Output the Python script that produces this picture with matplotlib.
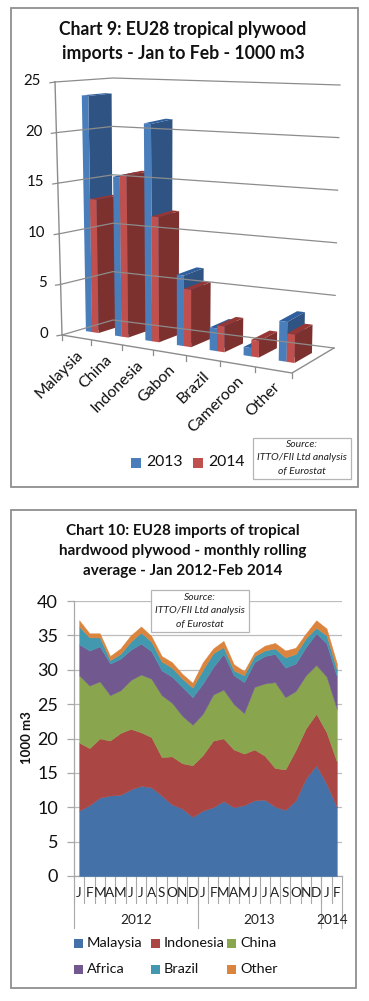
import matplotlib
from matplotlib import pyplot as plt
from matplotlib.patches import Polygon, Rectangle
import numpy as np
plt.switch_backend('agg')
plt.rcParams['font.family'] = ['Lato', 'DejaVu Sans']

W, H = 369, 1001

# Chart 9 data
countries = ['Malaysia', 'China', 'Indonesia', 'Gabon', 'Brazil', 'Cameroon', 'Other']
imports_2013 = [23.6, 15.8, 21.4, 6.9, 2.2, 0.8, 3.8]
imports_2014 = [13.3, 16.0, 12.3, 5.6, 2.5, 1.6, 2.7]
ticks_9 = [0, 5, 10, 15, 20, 25]

# Chart 10 data
months = list('JFMAMJJASOND') * 2 + ['J', 'F']
years = ['2012', '2013', '2014']
year_months = [12, 12, 2]
malaysia = [9.5, 10.3, 11.4, 11.7, 11.8, 12.6, 13.1, 12.9, 11.7, 10.4, 9.8, 8.6, 9.5, 10, 10.9, 10, 10.3, 11, 11.1, 10.1, 9.6, 11, 14.2, 16.1, 13.4, 10]
indonesia = [9.9, 8.3, 8.6, 8, 9, 8.8, 7.8, 7.3, 5.6, 7, 6.6, 7.5, 8.1, 9.7, 9.1, 8.4, 7.5, 7.4, 6.4, 5.6, 5.9, 7.3, 7.3, 7.5, 7.5, 6.6]
china = [9.8, 9.1, 8.3, 6.6, 6.2, 7.1, 8.4, 8.5, 9, 7.8, 6.9, 5.9, 6, 6.7, 7.1, 6.6, 5.9, 9.1, 10.5, 12.5, 10.5, 8.6, 7.7, 7.1, 8.1, 7.7]
africa = [4.5, 5.1, 5.1, 4.6, 4.6, 4.4, 4.5, 4, 3.6, 3.8, 4.2, 4, 4.4, 4, 5.2, 4.2, 4.5, 3.6, 4, 4.1, 4.3, 4, 4.1, 4.6, 4.8, 4.7]
brazil = [2.6, 1.9, 1.3, .5, .7, 1.2, 1.6, 1.4, 1.3, 1.3, 1.2, 1.4, 2, 2, 1, .7, 1, .9, .8, .8, 1.5, 1.4, 1.3, .8, 1.2, 1]
other = [.9, .6, .6, .6, .8, .9, .9, .8, .8, .8, .7, .7, 1.1, .7, .9, .9, .6, .5, .7, .8, 1, .9, .7, 1.1, 1, .9]
series_names = ['Malaysia', 'Indonesia', 'China', 'Africa', 'Brazil', 'Other']
series_cols = ['#4472A8', '#AA4643', '#89A54E', '#71588F', '#4198AF', '#DB843D']
ticks_10 = [0, 5, 10, 15, 20, 25, 30, 35, 40]

GREY = '#8c8c8c'
FRAME = '#8f8f8f'
TXT = '#111111'

fig = plt.figure(figsize=(W/100, H/100), dpi=100)
ax = fig.add_axes([0, 0, 1, 1], zorder=0)
ax.set_xlim(0, W)
ax.set_ylim(H, 0)
ax.axis('off')

# frames
ax.add_patch(Rectangle((10.5, 7.5), 347.5, 479, fc='white', ec=FRAME, lw=1.3))
ax.add_patch(Rectangle((10.5, 510), 345.5, 478, fc='white', ec=FRAME, lw=1.3))

# ---- Chart 9, fake 3D box: floor and top corners in pixels
floor = np.array([[62, 335], [292, 373], [113, 320], [334, 348]], float)
roof = np.array([[55, 82], [297, 110], [113, 78], [340, 85]], float)

def proj(u, d, v):
    t = u / 7.0
    s = t * (0.87 + 0.13 * t)  # perspective on category axis
    low = (1-d)*((1-s)*floor[0] + s*floor[1]) + d*((1-s)*floor[2] + s*floor[3])
    up = (1-d)*((1-s)*roof[0] + s*roof[1]) + d*((1-s)*roof[2] + s*roof[3])
    return low + (up - low) * v / 25.0

for v in ticks_9:
    pts = np.array([proj(0, 0, v), proj(0, 1, v), proj(7, 1, v)])
    ax.plot(pts[:, 0], pts[:, 1], color=GREY, lw=0.9)
    a = proj(0, 0, v)
    ax.plot([a[0]-5, a[0]], [a[1]+0.8, a[1]], color=GREY, lw=0.9)
    ax.text(a[0]-14, a[1]-1, str(v), ha='right', va='center', fontsize=10.8, color=TXT)

pts = np.array([proj(0, 0, 25), proj(0, 0, 0), proj(7, 0, 0), proj(7, 1, 0)])
ax.plot(pts[:, 0], pts[:, 1], color=GREY, lw=1.0)

def bar3(u0, u1, v, front, side, top, d0=0.33, d1=0.74):
    ax.add_patch(Polygon([proj(u1, d0, 0), proj(u1, d1, 0), proj(u1, d1, v), proj(u1, d0, v)], fc=side, ec='none'))
    ax.add_patch(Polygon([proj(u0, d0, v), proj(u1, d0, v), proj(u1, d1, v), proj(u0, d1, v)], fc=top, ec='none'))
    ax.add_patch(Polygon([proj(u0, d0, 0), proj(u1, d0, 0), proj(u1, d0, v), proj(u0, d0, v)], fc=front, ec='none'))

for i, name in enumerate(countries):
    c = i + 0.47
    bar3(c-0.22, c, imports_2013[i], '#4a7ebb', '#2f5484', '#2f5f9c')
    bar3(c, c+0.22, imports_2014[i], '#c0504d', '#7c312f', '#963735')
    a = proj(i + 0.5, 0, 0)
    ax.plot(*zip(proj(i+1, 0, 0), proj(i+1, 0, 0) + [0, 5]), color=GREY, lw=0.9)
    ax.text(a[0]+4, a[1]+15, name, rotation=45, ha='right', va='center', rotation_mode='anchor',
            fontsize=11.4, color=TXT)
p0 = proj(0, 0, 0)
ax.plot([p0[0], p0[0]], [p0[1], p0[1]+5], color=GREY, lw=0.9)

ax.text(183, 29, 'Chart 9: EU28 tropical plywood', ha='center', va='center', fontsize=12.7, fontweight='bold', color=TXT)
ax.text(183, 53, 'imports - Jan to Feb - 1000 m3', ha='center', va='center', fontsize=12.7, fontweight='bold', color=TXT)

# legend chart 9
ax.add_patch(Rectangle((131, 458), 10, 10, fc='#4a7ebb', ec='none'))
ax.text(146, 462.5, '2013', ha='left', va='center', fontsize=11.3, color=TXT)
ax.add_patch(Rectangle((193, 458), 10, 10, fc='#c0504d', ec='none'))
ax.text(208, 462.5, '2014', ha='left', va='center', fontsize=11.3, color=TXT)

def source_box(a, x0, y0, x1, y1, size):
    a.add_patch(Rectangle((x0, y0), x1-x0, y1-y0, fc='white', ec='#b5b5b5', lw=0.9))
    yy = [y0 + (y1-y0)*f for f in (0.18, 0.49, 0.81)]
    for y, s in zip(yy, ['Source:', 'ITTO/FII Ltd analysis', 'of Eurostat']):
        a.text((x0+x1)/2, y, s, ha='center', va='center', fontsize=size, style='italic', color='#222222')

source_box(ax, 252.5, 437.5, 350.5, 479, 7.5)

# ---- Chart 10
L, R, T, B = 74, 342, 601, 876
ax2 = fig.add_axes([L/W, 1-B/H, (R-L)/W, (B-T)/H], zorder=1)
ax2.patch.set_alpha(0)
xs = np.arange(len(months))
ax2.stackplot(xs, malaysia, indonesia, china, africa, brazil, other, colors=series_cols,
              edgecolor='face', lw=0.3, zorder=3)
ax2.set_xlim(-0.5, len(months)-0.5)
ax2.set_ylim(0, 40)
ax2.set_yticks(ticks_10)
ax2.set_yticklabels([str(t) for t in ticks_10], fontsize=13, color=TXT)
ax2.set_xticks([])
ax2.grid(axis='y', color='#bcbcbc', lw=0.9, zorder=0)
ax2.set_axisbelow(True)
for s in ['top', 'right']:
    ax2.spines[s].set_visible(False)
for s in ['left', 'bottom']:
    ax2.spines[s].set_color('#a8a8a8')
    ax2.spines[s].set_linewidth(0.9)
ax2.tick_params(axis='y', length=5, width=0.9, color='#a8a8a8', pad=6.5)
trans = ax2.get_xaxis_transform()
def below(px):
    return -px / float(B - T)

# month and year level of the axis
for i, m in enumerate(months):
    ax2.plot([i-0.5, i-0.5], [0, below(27)], transform=trans, color='#a8a8a8', lw=0.8, clip_on=False)
    ax2.text(i, below(17), m, transform=trans, ha='center', va='center', fontsize=9.8, color='#222222')
start = -0.5
for y, n in zip(years, year_months):
    ax2.plot([start, start], [0, below(52)], transform=trans, color='#a8a8a8', lw=0.8, clip_on=False)
    ax2.text(start + n/2.0, below(44), y, transform=trans, ha='center', va='center', fontsize=9.8, color='#222222')
    start += n
ax2.plot([start, start], [0, below(52)], transform=trans, color='#a8a8a8', lw=0.8, clip_on=False)

ax.text(27, 738, '1000 m3', rotation=90, ha='center', va='center', fontsize=9.5, fontweight='bold', color=TXT)
for y, s in zip([531, 551, 571], ['Chart 10: EU28 imports of tropical',
                                  'hardwood plywood - monthly rolling',
                                  'average - Jan 2012-Feb 2014']):
    ax.text(183, y, s, ha='center', va='center', fontsize=11, fontweight='bold', color=TXT)

# legend chart 10
leg_x = [74, 151, 227] * 2
leg_y = [943, 943, 943, 969, 969, 969]
for x, y, name, col in zip(leg_x, leg_y, series_names, series_cols):
    ax.add_patch(Rectangle((x, y-4.5), 9, 9, fc=col, ec='none'))
    ax.text(x+13, y, name, ha='left', va='center', fontsize=10.4, color=TXT)

# source box sits over the plot
top = fig.add_axes([0, 0, 1, 1], zorder=2)
top.set_xlim(0, W)
top.set_ylim(H, 0)
top.axis('off')
source_box(top, 151, 590, 249, 632, 7.5)

plt.savefig('out.png', dpi=100)
